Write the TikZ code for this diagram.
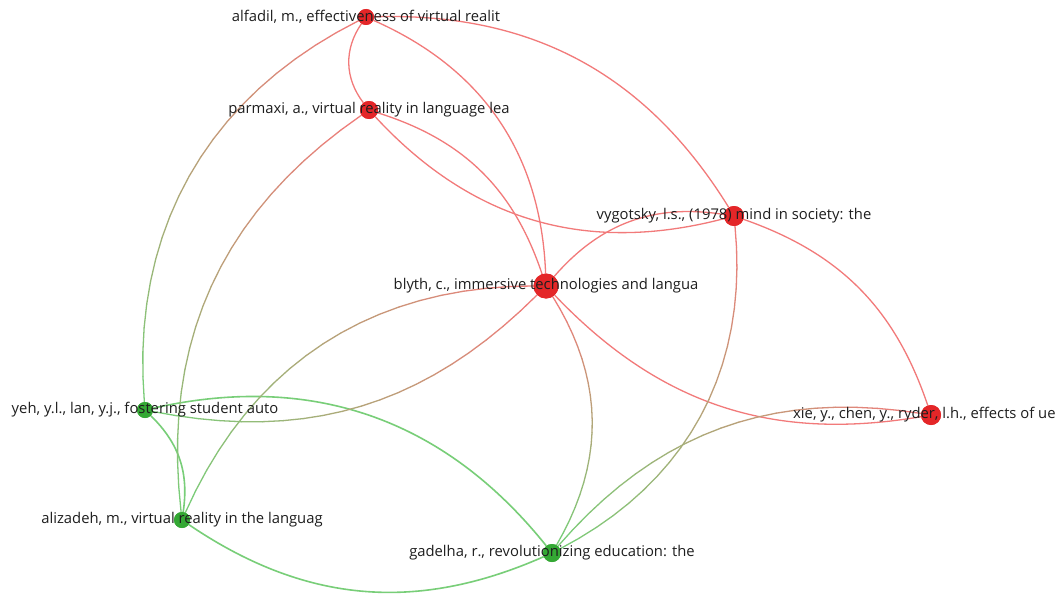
\documentclass[tikz,border=0pt]{standalone}
\usepackage{fontspec}
\setmainfont{Open Sans}
\definecolor{nodered}{RGB}{228,38,40}
\definecolor{nodegreen}{RGB}{52,168,52}
\definecolor{edgered}{RGB}{242,122,122}
\definecolor{edgegreen}{RGB}{120,206,120}
\definecolor{labelgray}{RGB}{30,30,30}
\tikzset{
  rdot/.style={circle, fill=nodered, draw=none, inner sep=0pt, minimum size=#1},
  gdot/.style={circle, fill=nodegreen, draw=none, inner sep=0pt, minimum size=#1},
  lbl/.style={font=\fontsize{14.8}{16}\selectfont, text=labelgray, inner sep=0pt},
  redge/.style={draw=edgered, line width=1.3pt},
  gedge/.style={draw=edgegreen, line width=1.6pt},
}
\newcommand\mixedge[3]{%
  \path (#1) to[#3]
    coordinate[pos=0] (q1) coordinate[pos=0.05] (q2) coordinate[pos=0.1] (q3)
    coordinate[pos=0.15] (q4) coordinate[pos=0.2] (q5) coordinate[pos=0.25] (q6)
    coordinate[pos=0.3] (q7) coordinate[pos=0.35] (q8) coordinate[pos=0.4] (q9)
    coordinate[pos=0.45] (q10) coordinate[pos=0.5] (q11) coordinate[pos=0.55] (q12)
    coordinate[pos=0.6] (q13) coordinate[pos=0.65] (q14) coordinate[pos=0.7] (q15)
    coordinate[pos=0.75] (q16) coordinate[pos=0.8] (q17) coordinate[pos=0.85] (q18)
    coordinate[pos=0.9] (q19) coordinate[pos=0.95] (q20) coordinate[pos=1] (q21) (#2);
  \foreach \ii [evaluate=\ii as \jj using int(\ii+1), evaluate=\ii as \pc using int(102-5*\ii)] in {1,...,20}{
    \draw[line width=1.3pt, line cap=round, color=edgered!\pc!edgegreen] (q\ii) -- (q\jj);
  }%
}
\begin{document}
\begin{tikzpicture}[x=1pt, y=-1pt]
\useasboundingbox (0,0) rectangle (1056,594);
\clip (0,0) rectangle (1056,594);
\fill[white] (0,0) rectangle (1056,594);
% nodes
\node[rdot=16pt] (nA) at (366,17) {};
\node[rdot=18pt] (nP) at (369,110) {};
\node[rdot=20pt] (nV) at (734,216) {};
\node[rdot=25pt] (nB) at (546,286) {};
\node[rdot=20pt] (nX) at (931,415) {};
\node[gdot=16pt] (nY) at (145,410) {};
\node[gdot=16pt] (nZ) at (182,520) {};
\node[gdot=18pt] (nG) at (552,553) {};
% red-red edges
\draw[redge] (nA) to[bend right=36] (nP);
\draw[redge] (nA) to[bend left=30] (nV);
\draw[redge] (nA) to[bend left=32] (nB);
\draw[redge] (nP) to[bend left=27] (nB);
\draw[redge] (nP) to[bend right=31] (nV);
\draw[redge] (nB) to[bend left=29] (nV);
\draw[redge] (nB) to[bend right=28] (nX);
\draw[redge] (nV) to[bend left=26] (nX);
% green-green edges
\draw[gedge] (nY) to[bend left=27] (nZ);
\draw[gedge] (nY) to[bend left=32] (nG);
\draw[gedge] (nZ) to[bend right=29] (nG);
% mixed edges: colour runs from red (first node) to green (second node)
\mixedge{nA}{nY}{bend right=34}
\mixedge{nP}{nZ}{bend right=31}
\mixedge{nB}{nG}{bend left=31}
\mixedge{nB}{nY}{bend left=28}
\mixedge{nB}{nZ}{bend right=33}
\mixedge{nV}{nG}{bend left=34}
\mixedge{nX}{nG}{bend right=29}
% redraw node discs above edges
\node[rdot=16pt] at (nA) {};
\node[rdot=18pt] at (nP) {};
\node[rdot=20pt] at (nV) {};
\node[rdot=25pt] at (nB) {};
\node[rdot=20pt] at (nX) {};
\node[gdot=16pt] at (nY) {};
\node[gdot=16pt] at (nZ) {};
\node[gdot=18pt] at (nG) {};
% labels
\node[lbl] (lA) at (nA) {alfadil, m., effectiveness of virtual realit};
\node[lbl] (lP) at (nP) {parmaxi, a., virtual reality in language lea};
\node[lbl] (lV) at (nV) {vygotsky, l.s., (1978) mind in society: the};
\node[lbl] (lB) at (nB) {blyth, c., immersive technologies and langua};
\node[lbl, anchor=west] (lX) at (793,415) {xie, y., chen, y., ryder, l.h., effects of ue};
\node[lbl] (lY) at (nY) {yeh, y.l., lan, y.j., fostering student auto};
\node[lbl] (lZ) at (nZ) {alizadeh, m., virtual reality in the languag};
\node[lbl] (lG) at (nG) {gadelha, r., revolutionizing education: the};
\end{tikzpicture}
\end{document}
